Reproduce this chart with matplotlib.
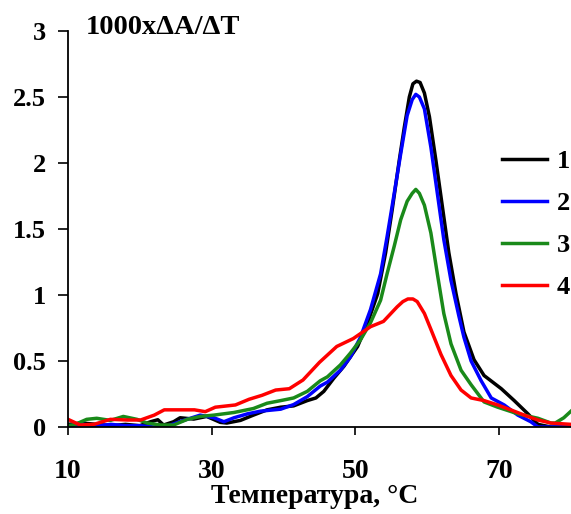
import numpy as np
from matplotlib import pyplot as plt

# кривые 1000*dA/dT от температуры
t1 = [10, 12, 14, 16, 18, 20, 21.5, 22.5, 23.3, 24.7, 25.6, 27.5, 29.3, 31.2, 32.1, 34.0, 35.8, 37.7,
      39.6, 41.4, 43.3, 44.5, 45.6, 47.0, 48.4, 50.3, 51.7, 53.1, 54.2, 55.1, 56.1, 56.8, 57.5, 58.0,
      58.5, 59.0, 59.6, 60.3, 61.2, 62.1, 63.0, 64.0, 65.1, 66.5, 67.9, 70.3, 72.1, 74.0, 75.4, 77.2, 80]
y1 = [0.02, 0.03, 0.02, 0.01, 0.02, 0.01, 0.04, 0.055, 0.015, 0.04, 0.07, 0.06, 0.08, 0.035, 0.03, 0.05,
      0.09, 0.13, 0.15, 0.16, 0.20, 0.22, 0.27, 0.37, 0.46, 0.61, 0.79, 1.01, 1.32, 1.64, 2.02, 2.27,
      2.50, 2.60, 2.62, 2.61, 2.53, 2.35, 2.02, 1.67, 1.32, 1.01, 0.72, 0.51, 0.39, 0.29, 0.20, 0.10,
      0.02, 0.0, 0.0]

t2 = [10, 12, 14, 16, 18, 20, 22, 24, 26.1, 28.4, 30.3, 31.7, 33.1, 35, 36.8, 39.6, 41.4, 43.3, 44.2,
      45.1, 46.1, 47.9, 49.3, 50.7, 52.1, 53.5, 54.4, 55.4, 56.3, 57.2, 57.9, 58.4, 58.9, 59.6, 60.5,
      61.4, 62.3, 63.3, 64.4, 65.1, 66.1, 67.5, 68.9, 70.7, 72.6, 74.4, 75.4, 77, 80]
y2 = [0.01, 0.02, 0.01, 0.02, 0.01, 0.01, 0.0, 0.01, 0.05, 0.09, 0.07, 0.04, 0.07, 0.10, 0.12, 0.135,
      0.17, 0.23, 0.27, 0.31, 0.34, 0.43, 0.53, 0.68, 0.89, 1.16, 1.44, 1.77, 2.07, 2.36, 2.48, 2.52,
      2.50, 2.41, 2.12, 1.77, 1.42, 1.11, 0.84, 0.68, 0.50, 0.35, 0.22, 0.167, 0.09, 0.04, 0.0, 0.0, 0.0]

t3 = [10, 11, 12.6, 14.0, 15.9, 17.7, 19.6, 21.0, 22.9, 24.7, 26.6, 28.4, 30.3, 33.1, 35.8, 37.7, 39.6,
      41.4, 43.3, 44.2, 45.1, 46.1, 47.9, 49.3, 50.7, 52.1, 53.5, 54.4, 55.4, 56.3, 57.2, 57.9, 58.4,
      58.9, 59.6, 60.5, 61.4, 62.3, 63.3, 64.7, 66.1, 67.9, 69.8, 72.6, 75.4, 77.2, 77.8, 79, 80]
y3 = [0.01, 0.02, 0.058, 0.066, 0.05, 0.08, 0.058, 0.03, 0.015, 0.015, 0.058, 0.08, 0.09, 0.11, 0.14,
      0.18, 0.20, 0.22, 0.27, 0.31, 0.35, 0.38, 0.47, 0.56, 0.66, 0.79, 0.96, 1.16, 1.37, 1.57, 1.71,
      1.77, 1.80, 1.77, 1.68, 1.47, 1.16, 0.86, 0.63, 0.43, 0.32, 0.19, 0.15, 0.10, 0.066, 0.03, 0.03,
      0.07, 0.12]

t4 = [10, 11.7, 13.6, 15.9, 18.3, 20.1, 22.0, 23.4, 27.6, 29.1, 30.5, 33.3, 35.2, 37.0, 38.9, 40.8,
      42.7, 43.8, 45.0, 47.4, 49.7, 52.1, 53.9, 55.8, 56.6, 57.3, 58.0, 58.6, 59.6, 60.5, 61.9, 63.3,
      64.7, 66.1, 67.9, 69.8, 71.6, 73.5, 75.4, 77.2, 80]
y4 = [0.058, 0.015, 0.02, 0.058, 0.053, 0.053, 0.09, 0.13, 0.13, 0.116, 0.15, 0.167, 0.21, 0.24, 0.28,
      0.29, 0.356, 0.42, 0.49, 0.61, 0.67, 0.76, 0.80, 0.91, 0.95, 0.97, 0.97, 0.95, 0.86, 0.74, 0.55,
      0.39, 0.28, 0.22, 0.20, 0.167, 0.13, 0.09, 0.053, 0.03, 0.02]

labels = ["1", "2", "3", "4"]
colors = ["black", "#0000ff", "#1a8a1a", "#ff0000"]
xticks = [10, 30, 50, 70]
yticks = [0, 0.5, 1, 1.5, 2, 2.5, 3]

plt.rcParams['font.family'] = ['Liberation Serif', 'DejaVu Serif']
plt.rcParams['font.weight'] = 'bold'

fig = plt.figure(figsize=(5.71, 5.14), dpi=100)
ax = fig.add_axes([68/571, 1-427/514, 1-68/571, (427-31)/514])

for t, y, c, lab in zip([t1, t2, t3, t4], [y1, y2, y3, y4], colors, labels):
    ax.plot(t, y, color=c, lw=2.5, label=lab)

ax.set_xlim(10, 80)
ax.set_ylim(0, 3)
ax.set_xticks(xticks)
ax.set_yticks(yticks)
ax.set_yticklabels(["%g" % v for v in yticks], fontsize=19, fontweight='bold')
ax.set_xticklabels([str(v) for v in xticks], fontsize=20, fontweight='bold')
ax.tick_params(axis='y', direction='out', length=7, width=1.2, pad=9)
ax.tick_params(axis='x', direction='out', length=6, width=1.2, pad=17)
for s in ['top', 'right']:
    ax.spines[s].set_visible(False)
for s in ['left', 'bottom']:
    ax.spines[s].set_linewidth(1.3)
ax.set_xlabel("Температура, °C", fontsize=20, fontweight='bold', labelpad=0)
ax.xaxis.label.set_x(0.491)

fig.text(86/571, 1-27/514, "1000xΔA/ΔT", fontsize=20.5, fontweight='bold', va='center', ha='left')

ax.legend(loc='upper left', bbox_to_anchor=(502/571, 1-150/514), bbox_transform=fig.transFigure,
          frameon=False, fontsize=19, handlelength=1.7, handletextpad=0.38, labelspacing=0.7,
          borderaxespad=0, borderpad=0)

plt.savefig("out.png", dpi=100)
